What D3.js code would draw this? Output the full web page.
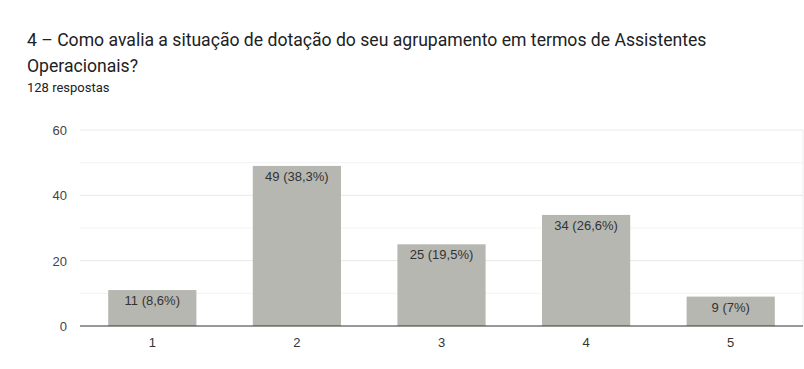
<!DOCTYPE html>
<html><head><meta charset="utf-8">
<script src="https://cdn.jsdelivr.net/npm/d3@7"></script>
<style>body{margin:0;background:#fff;font-family:Roboto,Arial,sans-serif}</style>
</head><body><svg id="c" width="804" height="369"></svg>
<script>
const categories = ["1","2","3","4","5"];
const values = [11,49,25,34,9];
const labels = ["11 (8,6%)","49 (38,3%)","25 (19,5%)","34 (26,6%)","9 (7%)"];
const yTicks = [0,20,40,60];
const yMinor = [10,30,50];

const svg = d3.select("#c");
const m = {l:80, r:803, t:130, b:326};
const x = d3.scaleBand().domain(categories).range([m.l, m.r]).paddingInner(0.39).paddingOuter(0.195);
const y = d3.scaleLinear().domain([0,60]).range([m.b, m.t]);
const axFont = "'Liberation Sans',Arial,sans-serif";

svg.append("text").attr("x",27).attr("y",46).attr("font-size",17.6).attr("fill","#202124").text("4 – Como avalia a situação de dotação do seu agrupamento em termos de Assistentes");
svg.append("text").attr("x",27).attr("y",72).attr("font-size",17.6).attr("fill","#202124").text("Operacionais?");
svg.append("text").attr("x",27).attr("y",92).attr("font-size",13).attr("fill","#202124").text("128 respostas");

svg.selectAll(".minor").data(yMinor).join("line").attr("x1",m.l).attr("x2",m.r)
  .attr("y1",d=>y(d)).attr("y2",d=>y(d)).attr("stroke","#f3f3f3").attr("stroke-width",1);
svg.selectAll(".grid").data(yTicks.slice(1)).join("line").attr("x1",m.l).attr("x2",m.r)
  .attr("y1",d=>y(d)).attr("y2",d=>y(d)).attr("stroke","#e8e8e8").attr("stroke-width",1);
svg.append("line").attr("x1",m.r).attr("x2",m.r).attr("y1",m.t).attr("y2",m.b).attr("stroke","#ececec");

svg.selectAll(".ylab").data(yTicks).join("text").attr("x",67).attr("y",d=>y(d)+5)
  .attr("text-anchor","end").attr("font-family",axFont).attr("font-size",13).attr("fill","#444").text(d=>d);

svg.selectAll(".bar").data(values).join("rect")
  .attr("x",(d,i)=>x(categories[i])).attr("width",x.bandwidth())
  .attr("y",d=>y(d)).attr("height",d=>y(0)-y(d)).attr("fill","#b7b7b2");

svg.selectAll(".blab").data(values).join("text")
  .attr("x",(d,i)=>x(categories[i])+x.bandwidth()/2).attr("y",d=>y(d)+15)
  .attr("text-anchor","middle").attr("font-family",axFont).attr("font-size",13).attr("fill","#333").text((d,i)=>labels[i]);

svg.append("line").attr("x1",m.l).attr("x2",m.r).attr("y1",y(0)).attr("y2",y(0)).attr("stroke","#333").attr("stroke-width",1.2);

svg.selectAll(".xlab").data(categories).join("text")
  .attr("x",d=>x(d)+x.bandwidth()/2).attr("y",347).attr("text-anchor","middle")
  .attr("font-family",axFont).attr("font-size",13).attr("fill","#333").text(d=>d);
</script></body></html>
